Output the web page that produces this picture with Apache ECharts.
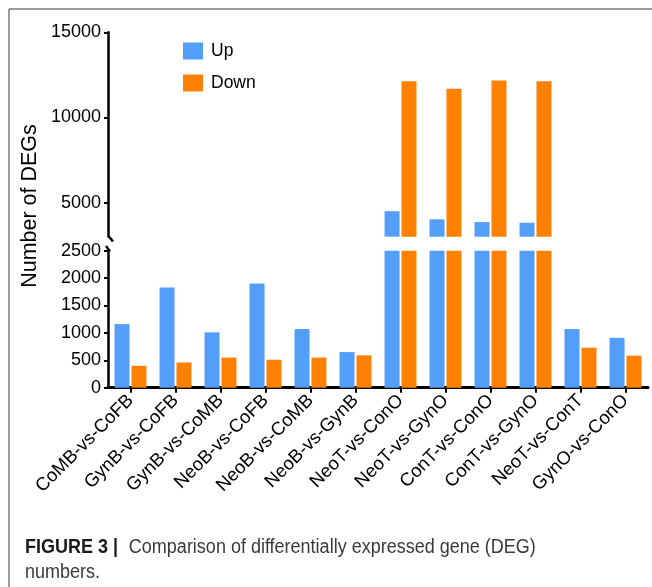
<!DOCTYPE html>
<html>
<head>
<meta charset="utf-8">
<style>
  html, body { margin: 0; padding: 0; background: #fff; }
  #chart { width: 652px; height: 587px; }
</style>
<script src="https://cdn.jsdelivr.net/npm/echarts@6/dist/echarts.min.js"></script>
</head>
<body>
<div id="chart"></div>
<script>
// Comparison groups
const categories = [
  'CoMB-vs-CoFB', 'GynB-vs-CoFB', 'GynB-vs-CoMB', 'NeoB-vs-CoFB',
  'NeoB-vs-CoMB', 'NeoB-vs-GynB', 'NeoT-vs-ConO', 'NeoT-vs-GynO',
  'ConT-vs-ConO', 'ConT-vs-GynO', 'NeoT-vs-ConT', 'GynO-vs-ConO'
];
// Number of up- and down-regulated DEGs per comparison
const upValues   = [1160, 1830, 1010, 1900, 1070, 650, 4500, 4020, 3860, 3820, 1070, 910];
const downValues = [400, 460, 550, 510, 550, 590, 12130, 11680, 12170, 12120, 730, 585];
// Broken value axis: lower and upper segments
const lowerRange = [0, 2500];
const upperRange = [3000, 15000];
const lowerTicks = [0, 500, 1000, 1500, 2000, 2500];
const upperTicks = [5000, 10000, 15000];

const FONT = '"Liberation Sans", Arial, Helvetica, sans-serif';
const BLUE = '#529ef8';
const ORANGE = '#ff8103';
const AXIS = '#000';

const chart = echarts.init(document.getElementById('chart'), null, { renderer: 'canvas' });

const commonX = {
  type: 'category',
  data: categories,
  boundaryGap: true
};

function valueAxis(idx, range, ticks) {
  return {
    type: 'value',
    gridIndex: idx,
    min: range[0],
    max: range[1],
    axisLine: { show: true, lineStyle: { color: AXIS, width: 2.5 } },
    axisTick: { show: true, length: 4, lineStyle: { color: AXIS, width: 2 }, customValues: ticks },
    axisLabel: {
      color: '#000', fontSize: 18, fontFamily: FONT, margin: 7,
      customValues: ticks,
      formatter: v => String(v)
    },
    splitLine: { show: false }
  };
}

const barBase = { type: 'bar', barWidth: 15, barGap: '13%', clip: true };

chart.setOption({
  animation: false,
  backgroundColor: '#fff',
  legend: {
    orient: 'vertical',
    left: 178,
    top: 37,
    itemWidth: 20,
    itemHeight: 17,
    itemGap: 14,
    icon: 'rect',
    data: ['Up', 'Down'],
    textStyle: { fontSize: 17.5, fontFamily: FONT, color: '#000', padding: [0, 0, 0, 3] }
  },
  grid: [
    { left: 108, width: 540, top: 250.7, height: 137 },
    { left: 108, width: 540, top: 32.3, height: 204.4 }
  ],
  xAxis: [
    Object.assign({}, commonX, {
      gridIndex: 0,
      axisLine: { show: true, lineStyle: { color: AXIS, width: 3 } },
      axisTick: { show: true, alignWithLabel: true, length: 5, lineStyle: { color: AXIS, width: 2 } },
      axisLabel: { rotate: 45, color: '#000', fontSize: 18.5, fontFamily: FONT, margin: 10, interval: 0 }
    }),
    Object.assign({}, commonX, {
      gridIndex: 1,
      axisLine: { show: false },
      axisTick: { show: false },
      axisLabel: { show: false }
    })
  ],
  yAxis: [
    valueAxis(0, lowerRange, lowerTicks),
    valueAxis(1, upperRange, upperTicks)
  ],
  series: [
    Object.assign({}, barBase, { name: 'Up', xAxisIndex: 0, yAxisIndex: 0, data: upValues, itemStyle: { color: BLUE } }),
    Object.assign({}, barBase, { name: 'Down', xAxisIndex: 0, yAxisIndex: 0, data: downValues, itemStyle: { color: ORANGE } }),
    Object.assign({}, barBase, { name: 'Up', xAxisIndex: 1, yAxisIndex: 1, data: upValues, itemStyle: { color: BLUE } }),
    Object.assign({}, barBase, { name: 'Down', xAxisIndex: 1, yAxisIndex: 1, data: downValues, itemStyle: { color: ORANGE } })
  ],
  graphic: [
    // frame
    { type: 'line', shape: { x1: 9, y1: 9, x2: 652, y2: 9 }, style: { stroke: '#7a7a7a', lineWidth: 1.5 } },
    { type: 'line', shape: { x1: 9, y1: 9, x2: 9, y2: 587 }, style: { stroke: '#7a7a7a', lineWidth: 1.5 } },
    // axis break marks
    { type: 'line', shape: { x1: 108.5, y1: 236, x2: 113, y2: 241.5 }, style: { stroke: AXIS, lineWidth: 2.5 } },
    { type: 'line', shape: { x1: 106, y1: 246, x2: 110, y2: 251.5 }, style: { stroke: AXIS, lineWidth: 2.5 } },
    // y axis title
    {
      type: 'text',
      x: 30, y: 206,
      rotation: Math.PI / 2,
      style: {
        text: 'Number of DEGs',
        font: '21.5px ' + FONT,
        fill: '#000',
        align: 'center',
        verticalAlign: 'middle'
      }
    },
    // caption
    {
      type: 'text',
      x: 25, y: 535,
      scaleX: 0.9,
      style: {
        text: '{b|FIGURE 3 |}{n|Comparison of differentially expressed gene (DEG)}\n{n|numbers.}',
        rich: {
          b: { fontFamily: FONT, fontWeight: 'bold', fontSize: 20, fill: '#1a1a1a', lineHeight: 25, padding: [0, 12, 0, 0] },
          n: { fontFamily: FONT, fontSize: 20, fill: '#3a3a3a', lineHeight: 25 }
        }
      }
    }
  ]
});
</script>
</body>
</html>
